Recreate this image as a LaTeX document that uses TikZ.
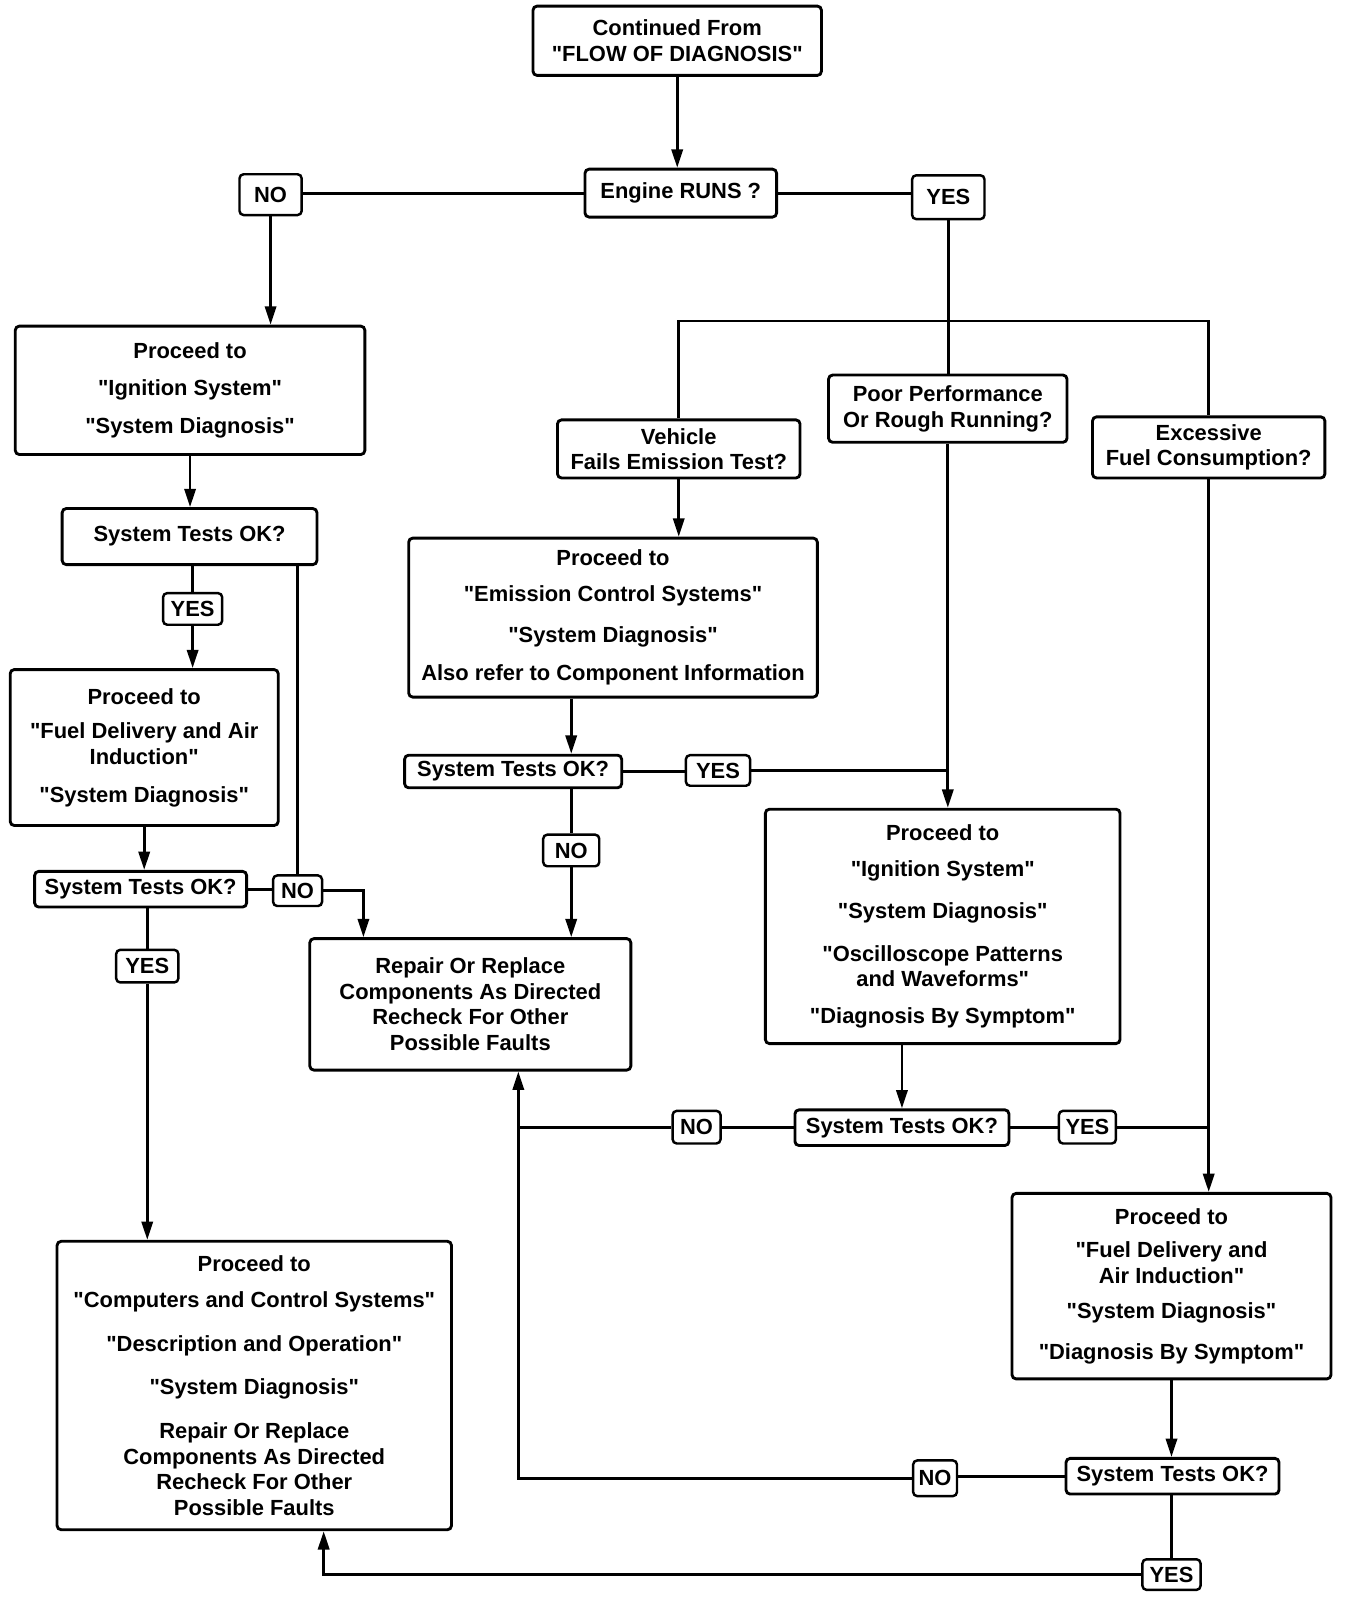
\documentclass[tikz,border=0pt]{standalone}
\usepackage{fontspec}
\setmainfont{Liberation Sans}[Ligatures=TeXOff]
\usetikzlibrary{arrows.meta}
\tikzset{
  box/.style={draw, line width=2.8pt, rounded corners=4pt, inner sep=0pt, align=center,
    font=\fontsize{21.5}{25}\selectfont\bfseries},
  lbl/.style={box, line width=2.4pt},
  conn/.style={line width=2.8pt},
  arr/.style={conn, -{Triangle[length=18pt,width=11pt]}},
}
\begin{document}
\begin{tikzpicture}[x=1pt,y=-1pt]
\useasboundingbox (0,0) rectangle (1318.8,1568);
% nodes
\node[box, minimum width=283pt, minimum height=68pt] (top) at (664.5,40) {Continued From\\"FLOW OF DIAGNOSIS"};
\node[box, minimum width=188pt, minimum height=47pt] (engine) at (668,189.5) {Engine RUNS ?};
\node[lbl, minimum width=61pt, minimum height=40pt] (no1) at (265.5,191) {NO};
\node[lbl, minimum width=71pt, minimum height=43pt] (yes1) at (930.5,193.5) {YES};
\node[box, minimum width=343pt, minimum height=126pt] (ign1) at (186.5,383) {Proceed to\\[11pt]"Ignition System"\\[12pt]"System Diagnosis"};
\node[box, minimum width=250pt, minimum height=55pt] (sys1) at (186,526.5) {System Tests OK?};
\node[lbl, minimum width=58pt, minimum height=31pt] (yes2) at (189,597.5) {YES};
\node[box, minimum width=263pt, minimum height=153pt] (fuel1) at (141.5,733.5) {Proceed to\\[9pt]"Fuel Delivery and Air\\Induction"\\[12pt]"System Diagnosis"};
\node[box, minimum width=208pt, minimum height=35pt] (sys2) at (138,872.5) {System Tests OK?};
\node[lbl, minimum width=48pt, minimum height=30pt] (no2) at (292,874) {NO};
\node[lbl, minimum width=61pt, minimum height=32pt] (yes3) at (144.5,948) {YES};
\node[box, minimum width=315pt, minimum height=129pt] (repair) at (461.5,985.5) {Repair Or Replace\\Components As Directed\\Recheck For Other\\Possible Faults};
\node[box, minimum width=387pt, minimum height=283pt] (big) at (249.5,1359.5) {Proceed to\\[10pt]"Computers and Control Systems"\\[18pt]"Description and Operation"\\[18pt]"System Diagnosis"\\[18pt]Repair Or Replace\\Components As Directed\\Recheck For Other\\Possible Faults};
\node[box, minimum width=238pt, minimum height=57pt] (vehicle) at (666,440.5) {Vehicle\\Fails Emission Test?};
\node[box, minimum width=234pt, minimum height=66pt] (poor) at (930,401) {Poor Performance\\Or Rough Running?};
\node[box, minimum width=228pt, minimum height=60pt] (excess) at (1186,439) {Excessive\\Fuel Consumption?};
\node[box, minimum width=401pt, minimum height=156pt] (emis) at (601.5,606) {Proceed to\\[10pt]"Emission Control Systems"\\[15pt]"System Diagnosis"\\[13pt]Also refer to Component Information};
\node[box, minimum width=213pt, minimum height=32pt] (sys3) at (503.5,757) {System Tests OK?};
\node[lbl, minimum width=63pt, minimum height=30pt] (yes4) at (704.5,756) {YES};
\node[lbl, minimum width=55pt, minimum height=31pt] (no3) at (560.5,834.5) {NO};
\node[box, minimum width=348pt, minimum height=230pt] (ign2) at (925,909) {Proceed to\\[10pt]"Ignition System"\\[16pt]"System Diagnosis"\\[17pt]"Oscilloscope Patterns\\and Waveforms"\\[11pt]"Diagnosis By Symptom"};
\node[box, minimum width=210pt, minimum height=35pt] (sys4) at (885,1106.5) {System Tests OK?};
\node[lbl, minimum width=47pt, minimum height=32pt] (no4) at (683.5,1106) {NO};
\node[lbl, minimum width=56pt, minimum height=32pt] (yes5) at (1067,1106) {YES};
\node[box, minimum width=313pt, minimum height=182pt] (fuel2) at (1149.5,1262) {Proceed to\\[8pt]"Fuel Delivery and\\Air Induction"\\[10pt]"System Diagnosis"\\[15pt]"Diagnosis By Symptom"};
\node[box, minimum width=209pt, minimum height=35pt] (sys5) at (1150.5,1448.5) {System Tests OK?};
\node[lbl, minimum width=43pt, minimum height=35pt] (no5) at (917.5,1450.5) {NO};
\node[lbl, minimum width=57pt, minimum height=30pt] (yes6) at (1149.5,1545) {YES};
% helper coordinates
\coordinate (barL) at (666,315);
\coordinate (barR) at (1186,315);
\coordinate (rA) at ([xshift=54pt]repair.north west);
\coordinate (rB) at ([xshift=206pt]repair.south west);
\coordinate (bA) at ([xshift=263pt]big.south west);
% connectors
\draw[arr] (top.south) -- (top.south |- engine.north);
\draw[conn] (engine.west) -- (engine.west -| no1.east);
\draw[arr] (no1.south) -- (no1.south |- ign1.north);
\draw[conn] (engine.east) -- (engine.east -| yes1.west);
\draw[conn] (yes1.south) -- (yes1.south |- poor.north);
\draw[conn] (vehicle.north) -- (barL) -- (barR) -- (excess.north);
\draw[arr] (ign1.south) -- (ign1.south |- sys1.north);
\draw[conn] (sys1.south -| yes2) -- (yes2.north);
\draw[arr] (yes2.south) -- (yes2.south |- fuel1.north);
\draw[conn] (sys1.south -| no2) -- (no2.north);
\draw[arr] (fuel1.south) -- (fuel1.south |- sys2.north);
\draw[conn] (sys2.east) -- (sys2.east -| no2.west);
\draw[arr] (no2.east) -| (rA);
\draw[conn] (sys2.south -| yes3) -- (yes3.north);
\draw[arr] (yes3.south) -- (yes3.south |- big.north);
\draw[arr] (vehicle.south) -- (vehicle.south |- emis.north);
\draw[arr] (emis.south -| no3) -- (sys3.north -| no3);
\draw[conn] (sys3.east) -- (sys3.east -| yes4.west);
\draw[conn] (yes4.east) -- (yes4.east -| poor.south);
\draw[arr] (poor.south) -- (poor.south |- ign2.north);
\draw[conn] (sys3.south -| no3) -- (no3.north);
\draw[arr] (no3.south) -- (no3.south |- repair.north);
\draw[arr] (ign2.south -| sys4) -- (sys4.north);
\draw[conn] (sys4.west) -- (sys4.west -| no4.east);
\draw[conn] (no4.west) -- (no4.west -| rB);
\draw[conn] (sys4.east) -- (sys4.east -| yes5.west);
\draw[conn] (yes5.east) -- (yes5.east -| excess.south);
\draw[arr] (excess.south) -- (excess.south |- fuel2.north);
\draw[arr] (fuel2.south) -- (fuel2.south |- sys5.north);
\draw[conn] (sys5.west) -- (sys5.west -| no5.east);
\draw[arr] (no5.west) -| (rB);
\draw[conn] (sys5.south -| yes6) -- (yes6.north);
\draw[arr] (yes6.west) -| (bA);
\end{tikzpicture}
\end{document}
